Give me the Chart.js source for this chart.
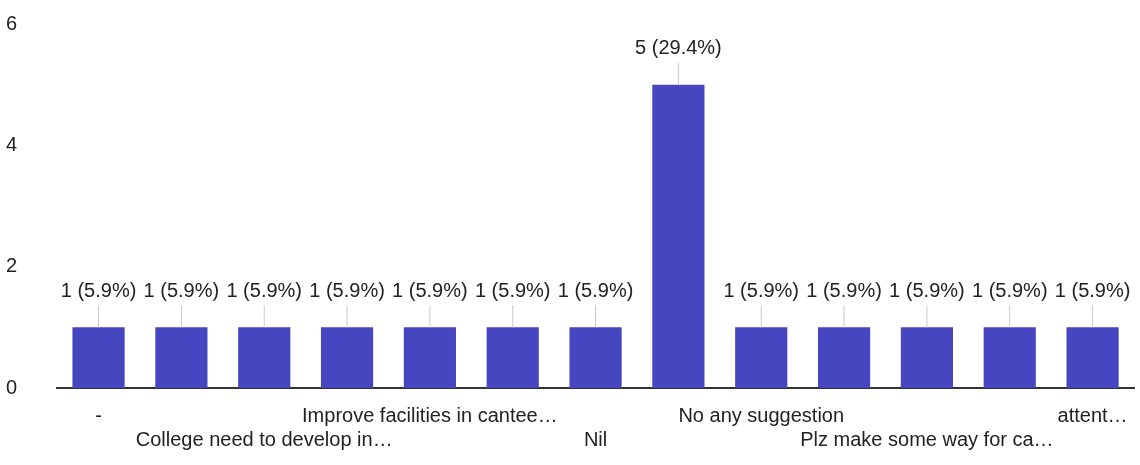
<!DOCTYPE html>
<html>
<head>
<meta charset="utf-8">
<script src="https://cdn.jsdelivr.net/npm/chart.js@4"></script>
<style>
  html, body { margin: 0; padding: 0; background: #fff; overflow: hidden; }
  #wrap { width: 1140px; height: 485px; margin-top: -20px; }
</style>
</head>
<body>
<div id="wrap"><canvas id="mainChart"></canvas></div>
<script>
// answers (only every other one is shown on the axis, the rest are unreadable)
const categories = ['-', '', 'College need to develop in…', '', 'Improve facilities in cantee…', '', 'Nil',
    '', 'No any suggestion', '', 'Plz make some way for ca…', '', 'attent…'];
const counts = [1, 1, 1, 1, 1, 1, 1, 5, 1, 1, 1, 1, 1];
const yTicks = [0, 2, 4, 6];

const total = counts.reduce((a, b) => a + b, 0);
const font = "'Liberation Sans', Arial, sans-serif";

// value labels with a small leader line, like google forms draws them
const barLabels = {
    id: 'barLabels',
    afterDatasetsDraw(chart) {
        const ctx = chart.ctx;
        const meta = chart.getDatasetMeta(0);
        ctx.save();
        ctx.font = '20px ' + font;
        ctx.textAlign = 'center';
        ctx.textBaseline = 'middle';
        meta.data.forEach((bar, i) => {
            const v = counts[i];
            const txt = v + ' (' + (v / total * 100).toFixed(1) + '%)';
            ctx.strokeStyle = '#c8c8c8';
            ctx.lineWidth = 1;
            ctx.beginPath();
            ctx.moveTo(bar.x, bar.y);
            ctx.lineTo(bar.x, bar.y - 22);
            ctx.stroke();
            ctx.fillStyle = '#222';
            ctx.fillText(txt, bar.x, bar.y - 36);
        });
        ctx.restore();
    }
};

new Chart(document.getElementById('mainChart'), {
    type: 'bar',
    data: {
        labels: categories,
        datasets: [{ data: counts, backgroundColor: '#4646c0', barPercentage: 0.63, categoryPercentage: 1 }]
    },
    options: {
        responsive: true, maintainAspectRatio: false, animation: false,
        layout: { padding: { left: -26, right: 6, top: 0, bottom: 5 } },
        plugins: { legend: { display: false }, tooltip: { enabled: false } },
        scales: {
            x: {
                grid: { display: false },
                border: { color: '#333', width: 2 },
                ticks: {
                    autoSkip: false, maxRotation: 0, minRotation: 0, padding: 8,
                    color: '#222', font: { family: font, size: 20 },
                    callback: (v, i) => {
                        if (i % 2) return '';
                        return (i / 2) % 2 ? ['', categories[i]] : [categories[i], ''];
                    }
                }
            },
            y: {
                min: 0, max: 6,
                afterBuildTicks: ax => { ax.ticks = yTicks.map(v => ({ value: v })); },
                grid: { display: false },
                border: { display: false },
                ticks: { padding: 32, color: '#222', font: { family: font, size: 20 } }
            }
        }
    },
    plugins: [barLabels]
});
</script>
</body>
</html>
